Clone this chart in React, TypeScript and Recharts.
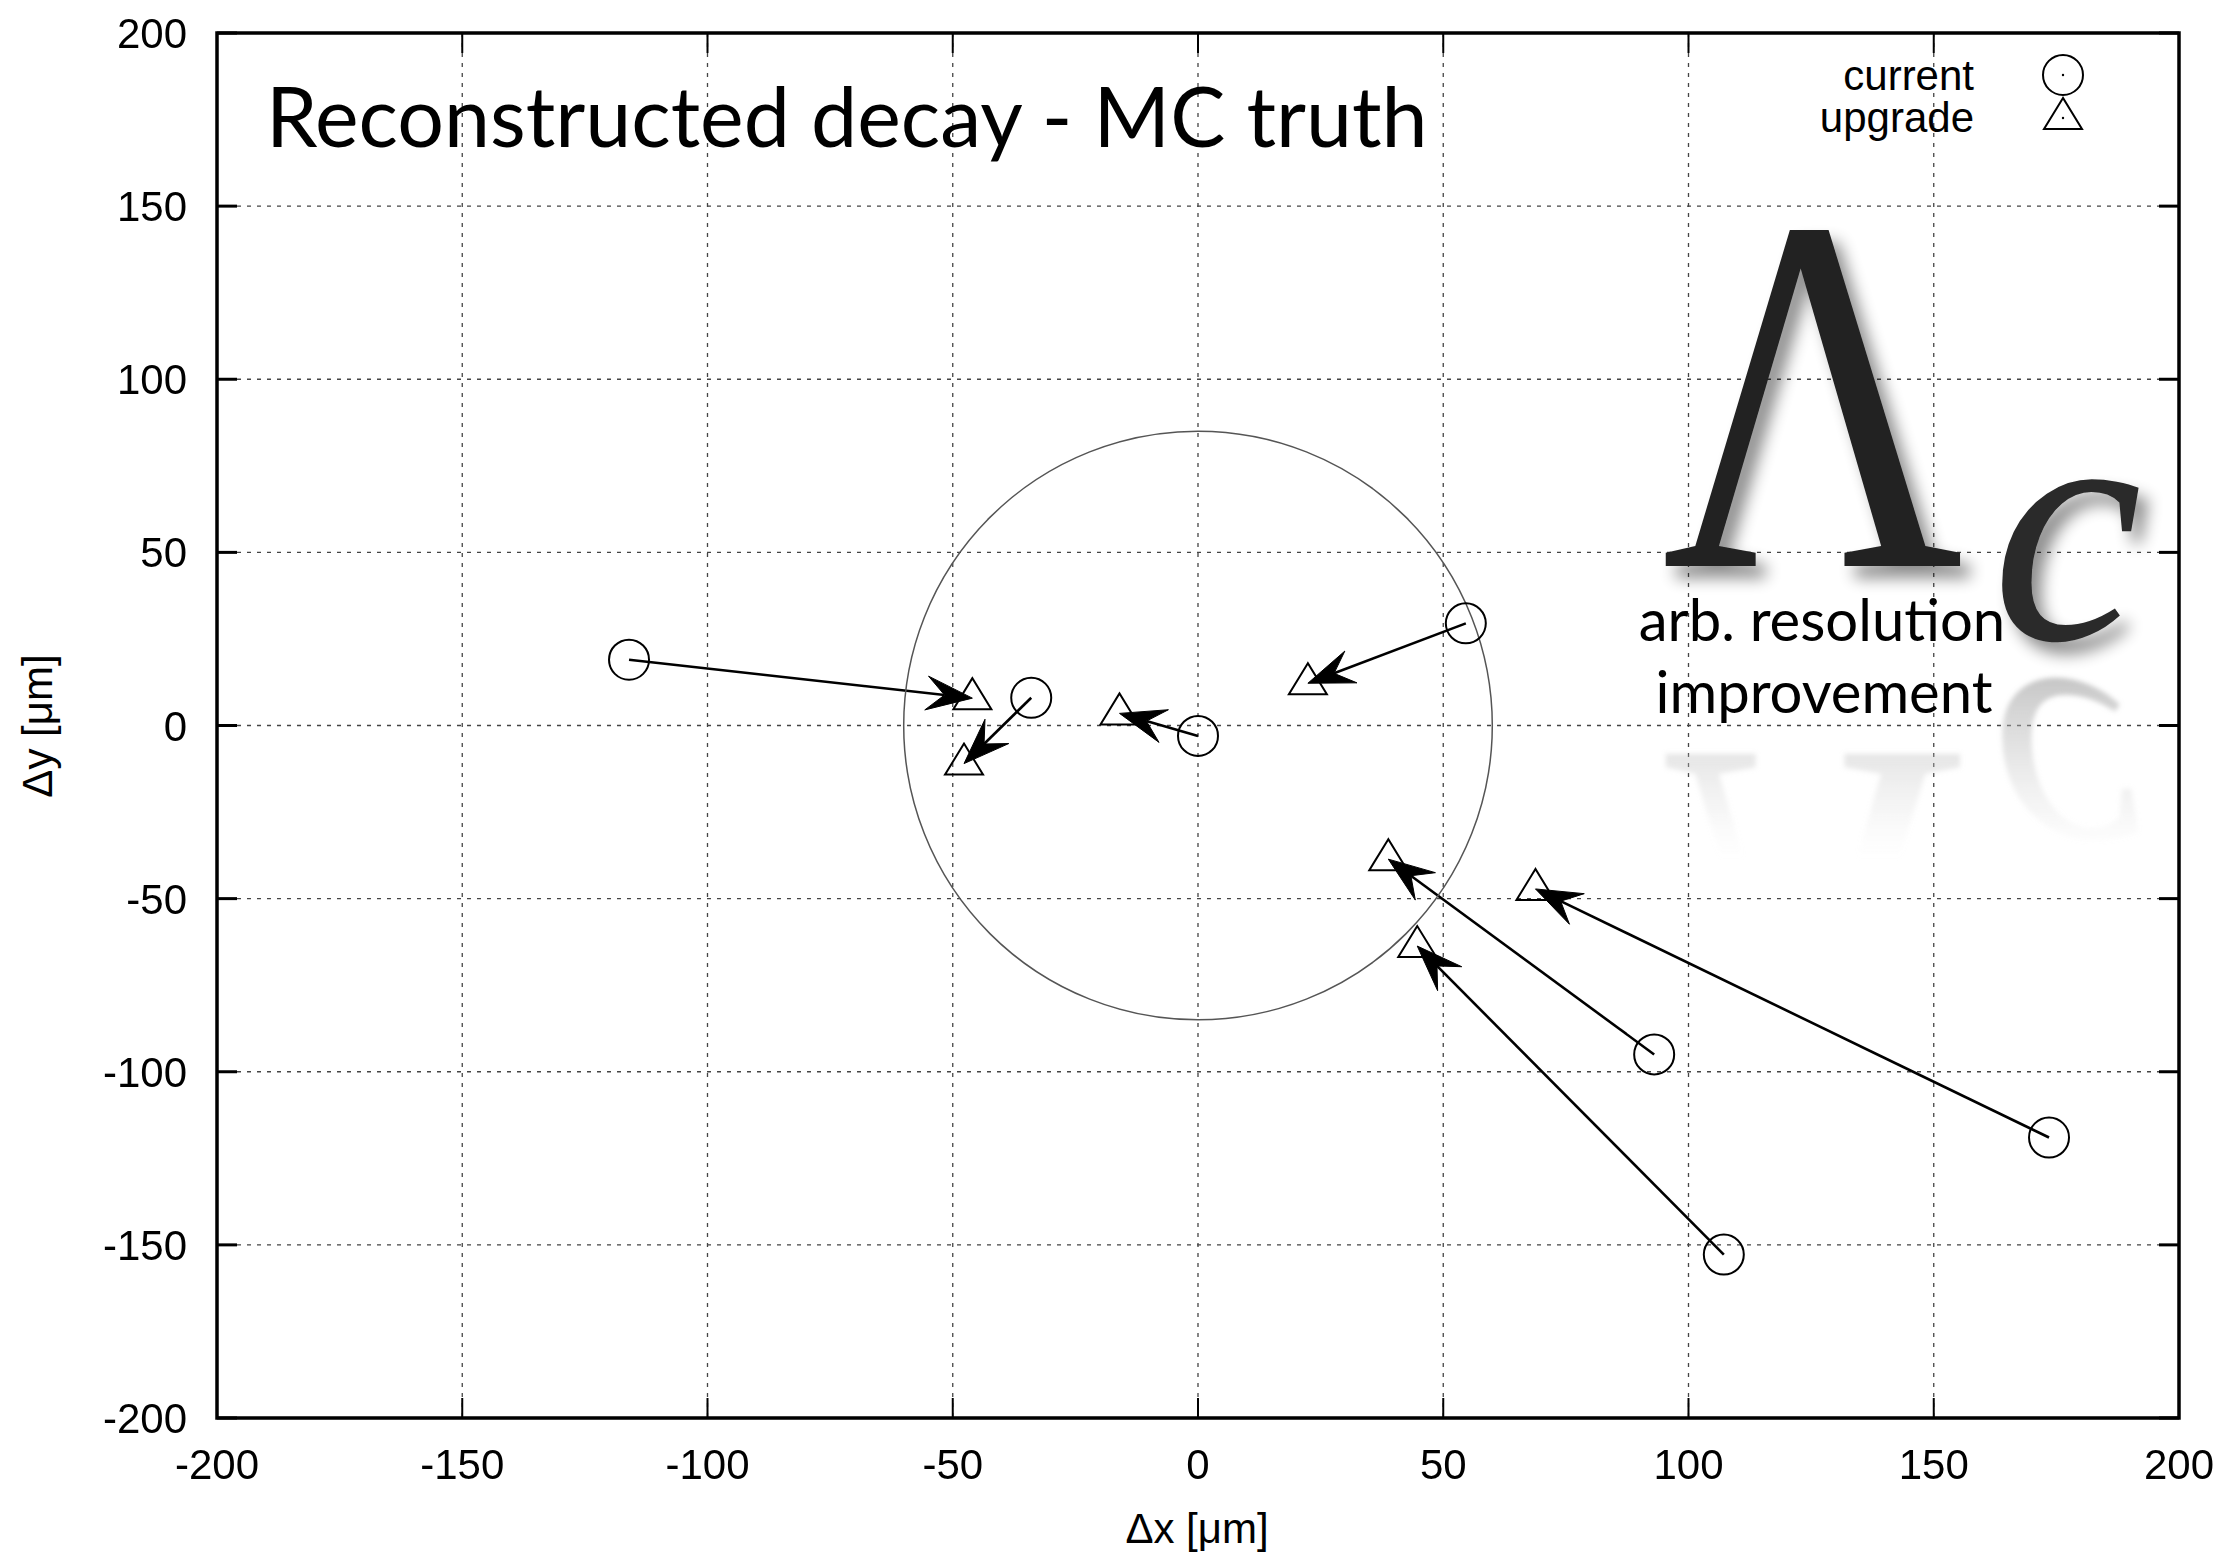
import React from 'react';
import {
  ScatterChart,
  Scatter,
  XAxis,
  YAxis,
  CartesianGrid,
  ReferenceLine,
  ReferenceDot,
  ReferenceArea,
  Customized,
} from 'recharts';

const xTicks = [-200, -150, -100, -50, 0, 50, 100, 150, 200];
const yTicks = [-200, -150, -100, -50, 0, 50, 100, 150, 200];

// current detector: reconstructed decay - MC truth
const currentX = [-116, -34, 0, 54.6, 93, 173.5, 107.2];
const currentY = [19, 8, -3, 29.5, -95, -119, -152.8];
// upgrade
const upgradeX = [-46, -47.7, -16, 22.4, 38.8, 68.8, 44.7];
const upgradeY = [7.9, -11, 3.5, 12.2, -38.6, -47.2, -63.7];

const resolutionRadius = 60; // in Δx units

const W = 2218;
const H = 1546;
const PLOT_LEFT = 209;
const PLOT_RIGHT = 2171;
const PLOT_TOP = 25;
const PLOT_BOTTOM = 1410;
const FONT = '"Liberation Sans", Arial, Helvetica, sans-serif';
const TITLE_FONT = 'Lato, "Open Sans", sans-serif';

const currentData = currentX.map((x, i) => ({ x, y: currentY[i] }));
const upgradeData = upgradeX.map((x, i) => ({ x, y: upgradeY[i] }));

const CircleMark = (props: any) => {
  const { cx, cy } = props;
  return <circle cx={cx} cy={cy} r={20} fill="none" stroke="#000" strokeWidth={2} />;
};

const TriangleMark = (props: any) => {
  const { cx, cy } = props;
  const pts = `${cx},${cy - 20} ${cx - 19},${cy + 11} ${cx + 19},${cy + 11}`;
  return <polygon points={pts} fill="none" stroke="#000" strokeWidth={2} />;
};

const ArrowShape = (props: any) => {
  const { x1, y1, x2, y2 } = props;
  const dx = x2 - x1;
  const dy = y2 - y1;
  const len = Math.hypot(dx, dy) || 1;
  const ux = dx / len;
  const uy = dy / len;
  const px = -uy;
  const py = ux;
  const L = 46;
  const HW = 17;
  const N = 28;
  const bx = x2 - ux * L;
  const by = y2 - uy * L;
  const nx = x2 - ux * N;
  const ny = y2 - uy * N;
  const pts = `${x2},${y2} ${bx + px * HW},${by + py * HW} ${nx},${ny} ${bx - px * HW},${by - py * HW}`;
  return (
    <g>
      <line x1={x1} y1={y1} x2={nx} y2={ny} stroke="#000" strokeWidth={2.6} />
      <polygon points={pts} fill="#000" stroke="#000" strokeWidth={1} strokeLinejoin="miter" />
    </g>
  );
};

const XTick = (props: any) => {
  const { x, payload } = props;
  return (
    <g>
      <line x1={x} x2={x} y1={PLOT_BOTTOM} y2={PLOT_BOTTOM - 20} stroke="#000" strokeWidth={2} />
      <line x1={x} x2={x} y1={PLOT_TOP} y2={PLOT_TOP + 20} stroke="#000" strokeWidth={2} />
      <text x={x} y={PLOT_BOTTOM + 61} textAnchor="middle" fontSize={42} fontFamily={FONT} fill="#000">
        {payload.value}
      </text>
    </g>
  );
};

const YTick = (props: any) => {
  const { y, payload } = props;
  return (
    <g>
      <line x1={PLOT_LEFT} x2={PLOT_LEFT + 20} y1={y} y2={y} stroke="#000" strokeWidth={3} />
      <line x1={PLOT_RIGHT} x2={PLOT_RIGHT - 20} y1={y} y2={y} stroke="#000" strokeWidth={3} />
      <text x={PLOT_LEFT - 30} y={y + 15} textAnchor="end" fontSize={42} fontFamily={FONT} fill="#000">
        {payload.value}
      </text>
    </g>
  );
};

// title, key, axis labels and the Λc logo
const Decorations = () => {
  const mirrorY = 652;
  const lamBase = 558;
  const fade = 200;
  return (
    <g>
      <defs>
        <filter id="logoShadow" x="-30%" y="-30%" width="160%" height="160%">
          <feGaussianBlur in="SourceAlpha" stdDeviation="8" />
          <feOffset dx="10" dy="12" result="off" />
          <feComponentTransfer>
            <feFuncA type="linear" slope="0.45" />
          </feComponentTransfer>
          <feMerge>
            <feMergeNode />
            <feMergeNode in="SourceGraphic" />
          </feMerge>
        </filter>
        <filter id="reflBlur">
          <feGaussianBlur stdDeviation="2.5" />
        </filter>
        <linearGradient id="reflFade" gradientUnits="userSpaceOnUse" x1="0" y1={mirrorY} x2="0" y2={mirrorY - fade}>
          <stop offset="0" stopColor="#999" stopOpacity="0.65" />
          <stop offset="0.45" stopColor="#bbb" stopOpacity="0.4" />
          <stop offset="1" stopColor="#ddd" stopOpacity="0" />
        </linearGradient>
        <linearGradient id="reflFadeL" gradientUnits="userSpaceOnUse" x1="0" y1={mirrorY - lamBase} x2="0" y2={mirrorY - lamBase - fade}>
          <stop offset="0" stopColor="#999" stopOpacity="0.65" />
          <stop offset="0.45" stopColor="#bbb" stopOpacity="0.4" />
          <stop offset="1" stopColor="#ddd" stopOpacity="0" />
        </linearGradient>
      </defs>

      <text x={258} y={139} fontSize={82.5} fontFamily={TITLE_FONT} fill="#000">
        Reconstructed decay - MC truth
      </text>

      <text x={1966} y={82} textAnchor="end" fontSize={42} fontFamily={FONT} fill="#000">current</text>
      <text x={1966} y={124} textAnchor="end" fontSize={42} fontFamily={FONT} fill="#000">upgrade</text>
      <circle cx={2055} cy={67} r={20} fill="none" stroke="#000" strokeWidth={2} />
      <circle cx={2055} cy={67} r={1.2} fill="#000" />
      <polygon points={`2055,${110 - 20} 2036,${110 + 11} 2074,${110 + 11}`} fill="none" stroke="#000" strokeWidth={2} />
      <circle cx={2055} cy={110} r={1.2} fill="#000" />

      <text x={1189} y={1535} textAnchor="middle" fontSize={42} fontFamily={FONT} fill="#000">Δx [μm]</text>
      <text x={44} y={718} textAnchor="middle" fontSize={42} fontFamily={FONT} fill="#000" transform="rotate(-90 44 718)">
        Δy [μm]
      </text>

      {/* reflection */}
      <g transform={`translate(0 ${2 * mirrorY}) scale(1 -1)`} filter="url(#reflBlur)">
        <text transform={`translate(1805 ${lamBase}) scale(0.82 1)`} textAnchor="middle" fontSize={509} fontFamily='"Liberation Serif", serif' fill="url(#reflFadeL)">
          Λ
        </text>
        <text x={2059} y={631} textAnchor="middle" fontSize={339} fontStyle="italic" fontFamily='"Liberation Serif", serif' fill="url(#reflFade)">
          c
        </text>
      </g>

      <g filter="url(#logoShadow)">
        <text transform={`translate(1805 ${lamBase}) scale(0.82 1)`} textAnchor="middle" fontSize={509} fontFamily='"Liberation Serif", serif' fill="#222">
          Λ
        </text>
        <text x={2059} y={631} textAnchor="middle" fontSize={339} fontStyle="italic" fontFamily='"Liberation Serif", serif' fill="#2a2a2a">
          c
        </text>
      </g>

      <text x={1814} y={633} textAnchor="middle" fontSize={58} fontFamily={TITLE_FONT} fill="#000">arb. resolution</text>
      <text x={1816} y={705} textAnchor="middle" fontSize={58} fontFamily={TITLE_FONT} fill="#000">improvement</text>
    </g>
  );
};

const App = () => {
  const circlePx = (resolutionRadius / 400) * (PLOT_RIGHT - PLOT_LEFT);
  return (
    <div style={{ position: 'relative', width: W, height: H, background: '#fff' }}>
      <div style={{ position: 'absolute', top: -8, left: 2061, width: 24, height: 2, background: '#f5a64b' }} />
      <div style={{ position: 'absolute', top: -8, left: 2139, width: 24, height: 2, background: '#f5a64b' }} />
      <div style={{ position: 'absolute', top: -8, left: 2174, width: 44, height: 2, background: '#f5a64b' }} />
      <ScatterChart width={W} height={H} margin={{ top: PLOT_TOP, right: W - PLOT_RIGHT, bottom: 0, left: 0 }}>
        <CartesianGrid stroke="#444" strokeWidth={1.3} strokeDasharray="4 6" />
        <XAxis
          type="number"
          dataKey="x"
          domain={[-200, 200]}
          ticks={xTicks}
          height={H - PLOT_BOTTOM}
          axisLine={false}
          tickLine={false}
          tick={<XTick />}
          interval={0}
          allowDataOverflow
        />
        <YAxis
          type="number"
          dataKey="y"
          domain={[-200, 200]}
          ticks={yTicks}
          width={PLOT_LEFT}
          axisLine={false}
          tickLine={false}
          tick={<YTick />}
          interval={0}
          allowDataOverflow
        />
        <ReferenceDot x={0} y={0} r={circlePx} fill="none" stroke="#555" strokeWidth={1.5} />
        <Customized component={<Decorations />} />
        {currentData.map((c, i) => (
          <ReferenceLine
            key={`arrow-${i}`}
            segment={[{ x: c.x, y: c.y }, { x: upgradeData[i].x, y: upgradeData[i].y }]}
            shape={ArrowShape}
            ifOverflow="visible"
          />
        ))}
        <Scatter name="current" data={currentData} shape={CircleMark} isAnimationActive={false} />
        <Scatter name="upgrade" data={upgradeData} shape={TriangleMark} isAnimationActive={false} />
        <ReferenceArea x1={-200} x2={200} y1={-200} y2={200} fill="none" fillOpacity={0} stroke="#000" strokeWidth={3.5} ifOverflow="visible" />
      </ScatterChart>
    </div>
  );
};

export default App;
